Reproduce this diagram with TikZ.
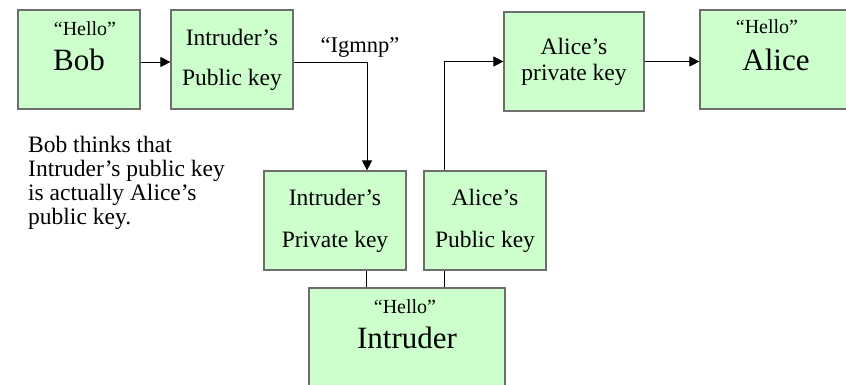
\documentclass[tikz,border=0pt]{standalone}
\usepackage{fontspec}
\setmainfont{Liberation Serif}
\usetikzlibrary{arrows.meta}

\begin{document}
\begin{tikzpicture}[x=1pt, y=-1pt,
    >={Triangle[length=10pt, width=10pt]},
    % Colors
    cgreen/.style={fill={rgb,255:red,204;green,255;blue,204}},
    % Styles
    box/.style={draw={rgb,255:red,110;green,110;blue,110}, cgreen, line width=1.2pt,
                minimum height=99pt, align=center, inner sep=0pt},
    keytxt/.style={font=\fontsize{23.5}{#1}\selectfont},
    hello/.style={anchor=base, inner sep=0pt, font=\fontsize{20}{20}\selectfont},
    who/.style={anchor=base, inner sep=0pt, font=\fontsize{31}{31}\selectfont},
    arrow/.style={->, line width=1pt},
    link/.style={line width=1pt},
  ]
  \useasboundingbox (0,0) rectangle (846,384);

  % Bob
  \node[box, minimum width=122pt] (bob) at (79, 59.5) {};
  \node[hello] (bobhello) at (85, 35) {``Hello''};
  \node[who] (bobname) at (79, 70) {Bob};

  % Intruder's public key
  \node[box, minimum width=122pt, keytxt=40pt] (ipk) at (232, 59.5) {Intruder's\\Public key};
  \node[font=\fontsize{22.5}{23}\selectfont, anchor=base, inner sep=0pt] (igmnp) at (360, 52) {``Igmnp''};

  % Note
  \node[keytxt=24pt, align=left, anchor=north west, inner sep=0pt] (note) at (28, 136)
    {Bob thinks that\\Intruder's public key\\is actually Alice's\\public key.};

  % Intruder's private key / Alice's public key
  \node[box, minimum width=142pt, keytxt=42pt] (iprk) at (335, 220.5) {Intruder's\\Private key};
  \node[box, minimum width=122pt, keytxt=42pt] (apuk) at (485, 220.5) {Alice's\\Public key};

  % Intruder
  \node[box, minimum width=196pt] (intruder) at (407, 337.5) {};
  \node[hello] (inthello) at (405, 313) {``Hello''};
  \node[who] (intname) at (407, 348) {Intruder};

  % Alice's private key
  \node[box, minimum width=140pt, keytxt=26pt] (apk) at (574, 61.5) {Alice's\\private key};

  % Alice
  \node[box, minimum width=152pt] (alice) at (776, 59.5) {};
  \node[hello] (alicehello) at (767, 33) {``Hello''};
  \node[who] (alicename) at (776, 70) {Alice};

  % Arrows
  \draw[arrow] ([yshift=-2.5pt]bob.east) -- ([yshift=-2.5pt]ipk.west);
  \draw[arrow] ([yshift=-2.5pt]ipk.east) -| ([xshift=32pt]iprk.north);
  \draw[link] ([xshift=31pt]iprk.south) -- ([xshift=31pt]iprk.south |- intruder.north);
  \draw[link] ([xshift=-41pt]apuk.south) -- ([xshift=-41pt]apuk.south |- intruder.north);
  \draw[arrow] ([xshift=-41pt]apuk.north) |- (apk.west);
  \draw[arrow] (apk.east) -- (apk.east -| alice.west);

\end{tikzpicture}
\end{document}
